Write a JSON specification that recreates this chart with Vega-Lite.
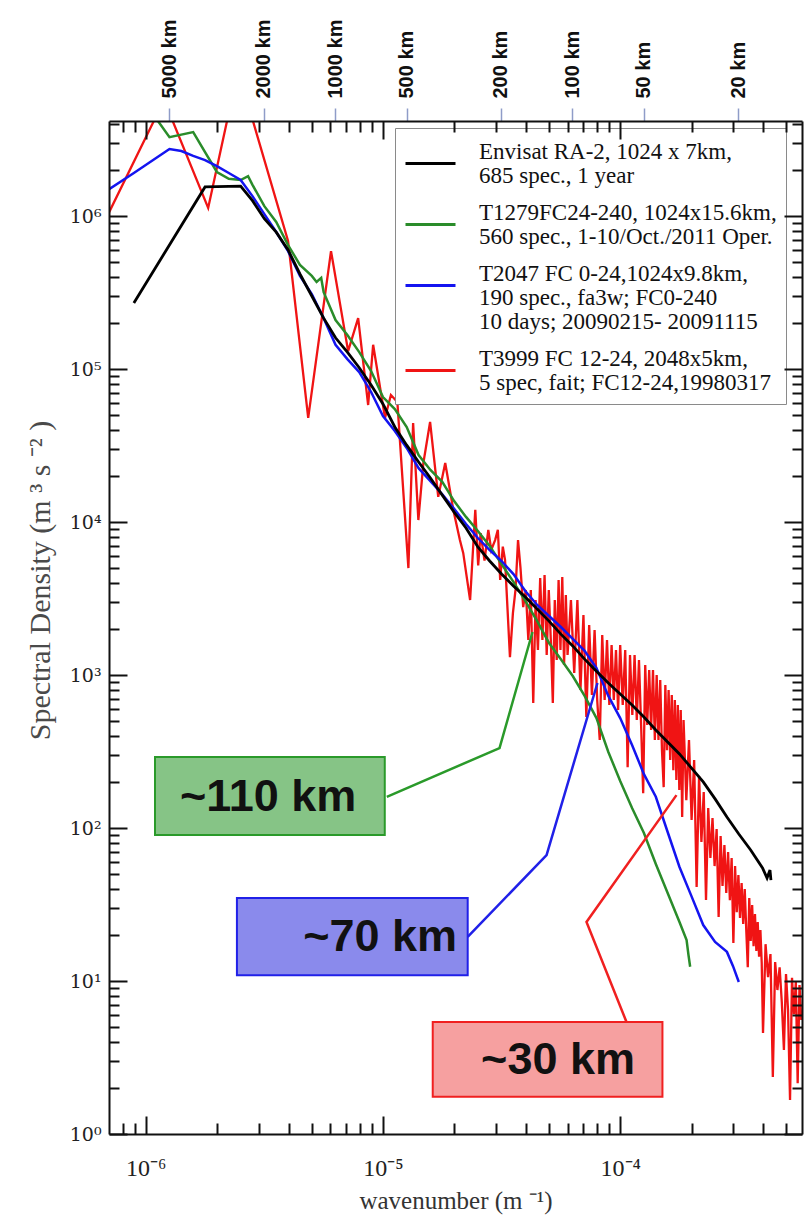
{
"$schema": "https://vega.github.io/schema/vega-lite/v6.json",
"width": 693, "height": 1013,
"autosize": "none",
"padding": {"left": 109, "top": 121, "right": 6, "bottom": 89},
"background": "white",
"config": {"view": {"stroke": null}, "axis": {"grid": false}, "style": {"guide-label": {"lineHeight": 24}}},
"datasets": {
"red": [
{"k":7.01e-7,"S":1.06e6},{"k":1.195e-6,"S":5.73e6},{"k":1.833e-6,"S":1.13e6},{"k":2.45e-6,"S":8.99e6},{"k":3.98e-6,"S":6.87e5},{"k":4.84e-6,"S":4.79e4},{"k":6.04e-6,"S":5.9e5},{"k":7.13e-6,"S":1.31e5},{"k":7.86e-6,"S":2.15e5},{"k":8.66e-6,"S":5.82e4},{"k":9.09e-6,"S":1.44e5},
{"k":1.02e-5,"S":4.79e4},{"k":1.08e-5,"S":6.76e4},{"k":1.15e-5,"S":6.08e4},{"k":1.28e-5,"S":5.0e3},{"k":1.34e-5,"S":4.44e4},{"k":1.41e-5,"S":1.03e4},{"k":1.48e-5,"S":2.43e4},{"k":1.58e-5,"S":4.51e4},{"k":1.71e-5,"S":1.46e4},{"k":1.83e-5,"S":2.43e4},{"k":1.98e-5,"S":1.2e4},
{"k":2.11e-5,"S":7.62e3},{"k":2.18e-5,"S":6.26e3},{"k":2.33e-5,"S":3.09e3},{"k":2.45e-5,"S":1.2e4},{"k":2.52e-5,"S":5.2e3},{"k":2.58e-5,"S":8.47e3},{"k":2.68e-5,"S":5.6e3},{"k":2.78e-5,"S":8.87e3},{"k":2.86e-5,"S":6.56e3},{"k":2.97e-5,"S":7.62e3},{"k":3.05e-5,"S":8.9e3},{"k":3.12e-5,"S":4.18e3},{"k":3.2e-5,"S":6.9e3},{"k":3.27e-5,"S":5.65e3},{"k":3.43e-5,"S":1.31e3},{"k":3.53e-5,"S":2.54e3},{"k":3.62e-5,"S":3.6e3},{"k":3.71e-5,"S":7.62e3},{"k":3.8e-5,"S":5.0e3},{"k":3.9e-5,"S":2.78e3},
{"k":4.0e-5,"S":3594},{"k":4.1e-5,"S":1694},{"k":4.2e-5,"S":3594},{"k":4.3e-5,"S":656},{"k":4.4e-5,"S":3093},{"k":4.5e-5,"S":1457},{"k":4.6e-5,"S":4305},{"k":4.7e-5,"S":1694},{"k":4.8e-5,"S":4503},{"k":4.9e-5,"S":1351},{"k":5.0e-5,"S":3594},{"k":5.1e-5,"S":1694},{"k":5.2e-5,"S":656},{"k":5.3e-5,"S":3093},{"k":5.4e-5,"S":1253},{"k":5.5e-5,"S":4177},{"k":5.6e-5,"S":1457},{"k":5.7e-5,"S":4371},{"k":5.8e-5,"S":1163},{"k":5.9e-5,"S":3334},{"k":6.0e-5,"S":1351},
{"k":6.2e-5,"S":3093},{"k":6.4e-5,"S":1031},{"k":6.6e-5,"S":3093},{"k":6.8e-5,"S":798},{"k":7.0e-5,"S":2468},{"k":7.2e-5,"S":531},{"k":7.4e-5,"S":2123},{"k":7.6e-5,"S":740},{"k":7.8e-5,"S":1969},{"k":8.0e-5,"S":686},{"k":8.2e-5,"S":376},{"k":8.4e-5,"S":1826},{"k":8.6e-5,"S":686},{"k":8.8e-5,"S":1694},{"k":9.0e-5,"S":637},{"k":9.2e-5,"S":1571},{"k":9.4e-5,"S":686},{"k":9.6e-5,"S":1457},{"k":9.8e-5,"S":590},
{"k":1.0e-4,"S":1571},{"k":1.025e-4,"S":637},{"k":1.05e-4,"S":1457},{"k":1.075e-4,"S":250},{"k":1.1e-4,"S":1351},{"k":1.125e-4,"S":548},{"k":1.15e-4,"S":1351},{"k":1.175e-4,"S":508},{"k":1.2e-4,"S":1253},{"k":1.225e-4,"S":471},{"k":1.25e-4,"S":169},{"k":1.275e-4,"S":1163},{"k":1.3e-4,"S":471},{"k":1.325e-4,"S":1078},{"k":1.35e-4,"S":437},{"k":1.375e-4,"S":1078},{"k":1.4e-4,"S":376},{"k":1.425e-4,"S":1000},{"k":1.45e-4,"S":376},{"k":1.475e-4,"S":927},{"k":1.5e-4,"S":323},{"k":1.525e-4,"S":185},{"k":1.55e-4,"S":860},{"k":1.575e-4,"S":323},{"k":1.6e-4,"S":798},{"k":1.625e-4,"S":278},{"k":1.65e-4,"S":740},{"k":1.675e-4,"S":239},{"k":1.7e-4,"S":686},{"k":1.725e-4,"S":206},{"k":1.75e-4,"S":637},{"k":1.775e-4,"S":177},{"k":1.8e-4,"S":590},{"k":1.825e-4,"S":118},
{"k":1.85e-4,"S":508},{"k":1.9e-4,"S":152},{"k":1.95e-4,"S":376},{"k":2.0e-4,"S":113},{"k":2.05e-4,"S":278},{"k":2.1e-4,"S":41.2},{"k":2.15e-4,"S":219},{"k":2.2e-4,"S":81},{"k":2.25e-4,"S":172},{"k":2.3e-4,"S":33.8},{"k":2.35e-4,"S":135},{"k":2.4e-4,"S":63.7},{"k":2.45e-4,"S":116},{"k":2.5e-4,"S":56.4},{"k":2.55e-4,"S":98.5},{"k":2.6e-4,"S":26.2},{"k":2.65e-4,"S":88.7},{"k":2.7e-4,"S":41.8},{"k":2.75e-4,"S":77.4},{"k":2.8e-4,"S":37.6},{"k":2.85e-4,"S":69.7},{"k":2.9e-4,"S":33.8},{"k":2.95e-4,"S":63.7},
{"k":3.0e-4,"S":17.7},{"k":3.05e-4,"S":56.4},{"k":3.1e-4,"S":28.2},{"k":3.15e-4,"S":49.3},{"k":3.2e-4,"S":25.8},{"k":3.25e-4,"S":43.7},{"k":3.3e-4,"S":23.6},{"k":3.35e-4,"S":39.9},{"k":3.4e-4,"S":21.5},{"k":3.45e-4,"S":12.3},{"k":3.5e-4,"S":34.9},{"k":3.55e-4,"S":18.3},{"k":3.6e-4,"S":31.4},{"k":3.65e-4,"S":16.9},{"k":3.7e-4,"S":27.4},{"k":3.75e-4,"S":15.7},{"k":3.8e-4,"S":24.3},{"k":3.85e-4,"S":14.4},{"k":3.9e-4,"S":21.5},{"k":3.95e-4,"S":13.1},
{"k":4.0e-4,"S":4.57},{"k":4.1e-4,"S":17.4},{"k":4.2e-4,"S":10.6},{"k":4.3e-4,"S":15.0},{"k":4.4e-4,"S":2.36},{"k":4.5e-4,"S":13.3},{"k":4.6e-4,"S":8.73},{"k":4.7e-4,"S":12.3},{"k":4.8e-4,"S":7.29},{"k":4.9e-4,"S":3.54},{"k":5.0e-4,"S":11.1},{"k":5.1e-4,"S":6.46},{"k":5.2e-4,"S":1.67},{"k":5.3e-4,"S":10.5},{"k":5.4e-4,"S":6.08},{"k":5.5e-4,"S":9.85},{"k":5.6e-4,"S":2.15},{"k":5.7e-4,"S":9.42},{"k":5.8e-4,"S":5.56}
],
"green": [
{"k":1.043e-6,"S":4.93e6},{"k":1.259e-6,"S":3.28e6},{"k":1.585e-6,"S":3.54e6},{"k":1.778e-6,"S":2.62e6},{"k":1.995e-6,"S":1.94e6},{"k":2.239e-6,"S":1.75e6},{"k":2.512e-6,"S":1.72e6},{"k":2.70e-6,"S":1.82e6},{"k":2.818e-6,"S":1.6e6},{"k":3.162e-6,"S":1.16e6},{"k":3.548e-6,"S":9.14e5},{"k":3.981e-6,"S":6.46e5},{"k":4.467e-6,"S":4.79e5},{"k":5.012e-6,"S":4.06e5},{"k":5.25e-6,"S":3.71e5},{"k":5.49e-6,"S":3.94e5},{"k":5.623e-6,"S":3.18e5},{"k":6.31e-6,"S":2.09e5},{"k":7.079e-6,"S":1.67e5},{"k":7.943e-6,"S":1.29e5},{"k":8.913e-6,"S":9.7e4},
{"k":1e-5,"S":6.56e4},{"k":1.122e-5,"S":5.48e4},{"k":1.259e-5,"S":4.18e4},{"k":1.413e-5,"S":2.74e4},{"k":1.585e-5,"S":2.19e4},{"k":1.778e-5,"S":1.83e4},{"k":1.995e-5,"S":1.37e4},{"k":2.239e-5,"S":1.08e4},{"k":2.512e-5,"S":8.73e3},{"k":2.818e-5,"S":6.97e3},{"k":3.162e-5,"S":5.31e3},{"k":3.548e-5,"S":4.06e3},{"k":3.981e-5,"S":3.05e3},{"k":4.467e-5,"S":2.25e3},{"k":5.012e-5,"S":1.62e3},{"k":5.623e-5,"S":1.27e3},{"k":6.31e-5,"S":985},{"k":7.079e-5,"S":730},{"k":7.943e-5,"S":523},{"k":8.913e-5,"S":314},
{"k":1e-4,"S":203},{"k":1.122e-4,"S":135},{"k":1.259e-4,"S":92.7},{"k":1.413e-4,"S":58.2},{"k":1.585e-4,"S":37.6},{"k":1.778e-4,"S":24.3},{"k":1.905e-4,"S":18.5},{"k":1.94e-4,"S":14.8},{"k":1.972e-4,"S":12.4}
],
"blue": [
{"k":7.01e-7,"S":1.5e6},{"k":8.91e-7,"S":1.91e6},{"k":1.122e-6,"S":2.43e6},{"k":1.259e-6,"S":2.74e6},{"k":1.413e-6,"S":2.66e6},{"k":1.585e-6,"S":2.47e6},{"k":1.778e-6,"S":2.32e6},{"k":1.995e-6,"S":2.12e6},{"k":2.239e-6,"S":1.91e6},{"k":2.512e-6,"S":1.72e6},{"k":2.818e-6,"S":1.35e6},{"k":3.162e-6,"S":1.03e6},{"k":3.548e-6,"S":7.86e5},{"k":3.981e-6,"S":5.9e5},{"k":4.467e-6,"S":4.06e5},{"k":5.012e-6,"S":3.09e5},{"k":5.623e-6,"S":2.15e5},{"k":6.31e-6,"S":1.44e5},{"k":7.079e-6,"S":1.16e5},{"k":7.943e-6,"S":9.55e4},{"k":8.913e-6,"S":7.08e4},
{"k":1e-5,"S":4.93e4},{"k":1.122e-5,"S":3.93e4},{"k":1.259e-5,"S":3.05e4},{"k":1.413e-5,"S":2.25e4},{"k":1.585e-5,"S":1.85e4},{"k":1.778e-5,"S":1.52e4},{"k":1.995e-5,"S":1.22e4},{"k":2.239e-5,"S":9.71e3},{"k":2.512e-5,"S":7.86e3},{"k":2.818e-5,"S":6.56e3},{"k":3.162e-5,"S":5.56e3},{"k":3.548e-5,"S":4.57e3},{"k":3.981e-5,"S":3.54e3},{"k":4.467e-5,"S":2.87e3},{"k":5.012e-5,"S":2.43e3},{"k":5.623e-5,"S":2.06e3},{"k":6.31e-5,"S":1.72e3},{"k":7.079e-5,"S":1.44e3},{"k":7.943e-5,"S":1.11e3},{"k":8.913e-5,"S":730},
{"k":1e-4,"S":523},{"k":1.122e-4,"S":349},{"k":1.259e-4,"S":225},{"k":1.413e-4,"S":160},{"k":1.585e-4,"S":94.2},{"k":1.778e-4,"S":55.6},{"k":1.995e-4,"S":36.0},{"k":2.239e-4,"S":23.2},{"k":2.512e-4,"S":18.0},{"k":2.818e-4,"S":15.5},{"k":2.99e-4,"S":12.5},{"k":3.162e-4,"S":9.85}
],
"black": [
{"k":8.91e-7,"S":2.7e5},{"k":1.778e-6,"S":1.55e6},{"k":2.512e-6,"S":1.57e6},{"k":2.818e-6,"S":1.26e6},{"k":3.162e-6,"S":9.6e5},{"k":3.548e-6,"S":7.85e5},{"k":3.981e-6,"S":6.0e5},{"k":4.467e-6,"S":4.18e5},{"k":5.012e-6,"S":3.0e5},{"k":5.623e-6,"S":2.15e5},{"k":6.31e-6,"S":1.6e5},{"k":7.079e-6,"S":1.29e5},{"k":7.943e-6,"S":1.02e5},{"k":8.913e-6,"S":7.86e4},
{"k":1e-5,"S":5.91e4},{"k":1.122e-5,"S":4.18e4},{"k":1.259e-5,"S":3.18e4},{"k":1.413e-5,"S":2.47e4},{"k":1.585e-5,"S":1.94e4},{"k":1.778e-5,"S":1.5e4},{"k":1.995e-5,"S":1.16e4},{"k":2.239e-5,"S":9.14e3},{"k":2.512e-5,"S":6.87e3},{"k":2.818e-5,"S":5.56e3},{"k":3.162e-5,"S":4.57e3},{"k":3.548e-5,"S":3.82e3},{"k":3.981e-5,"S":3.24e3},{"k":4.467e-5,"S":2.7e3},{"k":5.012e-5,"S":2.25e3},{"k":5.623e-5,"S":1.85e3},{"k":6.31e-5,"S":1.55e3},{"k":7.079e-5,"S":1.27e3},{"k":7.943e-5,"S":1.06e3},{"k":8.913e-5,"S":887},
{"k":1e-4,"S":752},{"k":1.122e-4,"S":637},{"k":1.259e-4,"S":531},{"k":1.413e-4,"S":437},{"k":1.585e-4,"S":365},{"k":1.778e-4,"S":305},{"k":1.995e-4,"S":247},{"k":2.239e-4,"S":200},{"k":2.512e-4,"S":155},{"k":2.818e-4,"S":118},{"k":3.162e-4,"S":91.4},{"k":3.548e-4,"S":71.8},{"k":3.981e-4,"S":54.8},{"k":4.16e-4,"S":47.1},{"k":4.28e-4,"S":53.1},{"k":4.32e-4,"S":45.7}
],
"connectors": [
{"name":"g","i":0,"k":1.038e-5,"S":160},{"name":"g","i":1,"k":3.10e-5,"S":333},{"name":"g","i":2,"k":4.27e-5,"S":1910},
{"name":"b","i":0,"k":2.276e-5,"S":19.4},{"name":"b","i":1,"k":4.894e-5,"S":66.6},{"name":"b","i":2,"k":8.02e-5,"S":887},
{"name":"r","i":0,"k":1.063e-4,"S":5.40},{"name":"r","i":1,"k":7.21e-5,"S":24.3},{"name":"r","i":2,"k":1.727e-4,"S":164}
],
"boxes": [
{"name":"g","k1":1.094e-6,"k2":1.0176e-5,"S1":291,"S2":90.0},
{"name":"b","k1":2.423e-6,"k2":2.276e-5,"S1":34.9,"S2":10.9},
{"name":"r","k1":1.621e-5,"k2":1.507e-4,"S1":5.40,"S2":1.75}
],
"labels": [
{"name":"g","k":3.28e-6,"S":160,"label":"~110 km"},
{"name":"b","k":9.73e-6,"S":19.4,"label":"~70 km"},
{"name":"r","k":5.47e-5,"S":3.05,"label":"~30 km"}
]
},
"layer": [
{
"data": {"name": "red"},
"mark": {"type": "line", "strokeWidth": 2.3, "clip": true},
"encoding": {
"x": {"field": "k", "type": "quantitative", "scale": {"type": "log", "domain": [7.0e-7, 5.84e-4], "nice": false},
 "axis": {"orient": "bottom", "values": [1e-6, 1e-5, 1e-4],
  "labelExpr": "'10⁻' + ['⁰','¹','²','³','⁴','⁵','⁶','⁷'][round(-log(datum.value)/LN10)]",
  "tickSize": -18, "tickWidth": 2, "tickColor": "#111", "domain": true, "domainWidth": 2, "domainColor": "#111",
  "labelFont": "Liberation Serif", "labelFontSize": 24, "labelColor": "#222", "labelPadding": 40, "labelFlush": false, "labelOverlap": false,
  "title": "wavenumber (m ⁻¹)", "titleFont": "Liberation Serif", "titleFontSize": 25, "titleFontWeight": "normal", "titleColor": "#333", "titleY": 66, "titleBaseline": "middle", "zindex": 1}},
"y": {"field": "S", "type": "quantitative", "scale": {"type": "log", "domain": [1, 4.18e6], "nice": false},
 "axis": {"orient": "left", "values": [1, 10, 100, 1000, 10000, 100000, 1000000],
  "labelExpr": "'10' + ['⁰','¹','²','³','⁴','⁵','⁶'][round(log(datum.value)/LN10)]",
  "tickSize": -18, "tickWidth": 2, "tickColor": "#111", "domain": true, "domainWidth": 2, "domainColor": "#111",
  "labelFont": "DejaVu Serif", "labelFontSize": 19, "labelColor": "#222", "labelPadding": 26, "labelFlush": false, "labelOverlap": false,
  "title": "Spectral Density (m ³ s ⁻² )", "titleFont": "Liberation Serif", "titleFontSize": 30, "titleFontWeight": "normal", "titleColor": "#4a4a4a", "titleX": -69, "titleY": 459, "titleAngle": 270, "titleAlign": "center", "titleBaseline": "middle", "zindex": 1}},
"color": {"datum": "T3999", "type": "nominal",
 "scale": {"domain": ["Envisat", "T1279", "T2047", "T3999"], "range": ["#000000", "#2a8c2a", "#1414f0", "#f01414"]},
 "legend": {"orient": "none", "legendX": 286, "legendY": 7, "title": null, "fillColor": "white", "strokeColor": "#8a8a8a", "padding": 9, "rowPadding": 10, "labelOffset": 22, "labelBaseline": "bottom", "symbolType": "M-1,0H1", "symbolSize": 2500, "symbolStrokeWidth": 3, "labelFont": "Liberation Serif", "labelFontSize": 23, "labelLimit": 400, "labelColor": "#111",
  "labelExpr": "datum.label == 'Envisat' ? ['Envisat RA-2, 1024 x 7km,', '685 spec., 1 year'] : datum.label == 'T1279' ? ['T1279FC24-240, 1024x15.6km,', '560 spec., 1-10/Oct./2011 Oper.'] : datum.label == 'T2047' ? ['T2047 FC 0-24,1024x9.8km,', '190 spec., fa3w;  FC0-240', '10 days; 20090215- 20091115'] : ['T3999 FC 12-24, 2048x5km,', '5 spec, fait; FC12-24,19980317']"}}
}
},
{
"data": {"name": "green"},
"mark": {"type": "line", "strokeWidth": 2.5, "clip": true},
"encoding": {
"x": {"field": "k", "type": "quantitative", "scale": {"type": "log", "domain": [7.0e-7, 5.84e-4], "nice": false},
 "axis": {"orient": "bottom", "values": [8e-7, 9e-7, 2e-6, 3e-6, 4e-6, 5e-6, 6e-6, 7e-6, 8e-6, 9e-6, 2e-5, 3e-5, 4e-5, 5e-5, 6e-5, 7e-5, 8e-5, 9e-5, 2e-4, 3e-4, 4e-4, 5e-4], "labels": false, "domain": false, "tickSize": -11, "tickWidth": 2, "tickColor": "#111", "title": null, "zindex": 1}},
"y": {"field": "S", "type": "quantitative", "scale": {"type": "log", "domain": [1, 4.18e6], "nice": false},
 "axis": {"orient": "left", "values": [2,3,4,5,6,7,8,9,20,30,40,50,60,70,80,90,200,300,400,500,600,700,800,900,2000,3000,4000,5000,6000,7000,8000,9000,20000,30000,40000,50000,60000,70000,80000,90000,200000,300000,400000,500000,600000,700000,800000,900000,2000000,3000000,4000000], "labels": false, "domain": false, "tickSize": -10, "tickWidth": 2, "tickColor": "#111", "title": null, "zindex": 1}},
"color": {"datum": "T1279", "type": "nominal",
 "scale": {"domain": ["Envisat", "T1279", "T2047", "T3999"], "range": ["#000000", "#2a8c2a", "#1414f0", "#f01414"]},
 "legend": {"orient": "none", "legendX": 286, "legendY": 7, "title": null, "fillColor": "white", "strokeColor": "#8a8a8a", "padding": 9, "rowPadding": 10, "labelOffset": 22, "labelBaseline": "bottom", "symbolType": "M-1,0H1", "symbolSize": 2500, "symbolStrokeWidth": 3, "labelFont": "Liberation Serif", "labelFontSize": 23, "labelLimit": 400, "labelColor": "#111",
  "labelExpr": "datum.label == 'Envisat' ? ['Envisat RA-2, 1024 x 7km,', '685 spec., 1 year'] : datum.label == 'T1279' ? ['T1279FC24-240, 1024x15.6km,', '560 spec., 1-10/Oct./2011 Oper.'] : datum.label == 'T2047' ? ['T2047 FC 0-24,1024x9.8km,', '190 spec., fa3w;  FC0-240', '10 days; 20090215- 20091115'] : ['T3999 FC 12-24, 2048x5km,', '5 spec, fait; FC12-24,19980317']"}}
}
},
{
"data": {"name": "blue"},
"mark": {"type": "line", "strokeWidth": 2.5, "clip": true},
"encoding": {
"x": {"field": "k", "type": "quantitative", "scale": {"type": "log", "domain": [7.0e-7, 5.84e-4], "nice": false},
 "axis": {"orient": "top", "values": [1.25664e-6, 3.14159e-6, 6.28319e-6, 1.25664e-5, 3.14159e-5, 6.28319e-5, 1.25664e-4, 3.14159e-4],
  "labelExpr": "round(2*PI/datum.value/1000) + ' km'", "labelAngle": 270, "labelFont": "Liberation Sans", "labelFontWeight": "bold", "labelFontSize": 20, "labelColor": "#111", "labelPadding": 10, "labelOverlap": false, "labelFlush": false,
  "tickSize": 13, "tickWidth": 1.5, "tickColor": "#8f9cc8", "domain": true, "domainWidth": 2, "domainColor": "#111", "title": null, "zindex": 1}},
"y": {"field": "S", "type": "quantitative", "scale": {"type": "log", "domain": [1, 4.18e6], "nice": false},
 "axis": {"orient": "right", "values": [1, 10, 100, 1000, 10000, 100000, 1000000], "labels": false, "domain": true, "domainWidth": 2, "domainColor": "#111", "tickSize": -18, "tickWidth": 2, "tickColor": "#111", "title": null, "zindex": 1}},
"color": {"datum": "T2047", "type": "nominal",
 "scale": {"domain": ["Envisat", "T1279", "T2047", "T3999"], "range": ["#000000", "#2a8c2a", "#1414f0", "#f01414"]},
 "legend": {"orient": "none", "legendX": 286, "legendY": 7, "title": null, "fillColor": "white", "strokeColor": "#8a8a8a", "padding": 9, "rowPadding": 10, "labelOffset": 22, "labelBaseline": "bottom", "symbolType": "M-1,0H1", "symbolSize": 2500, "symbolStrokeWidth": 3, "labelFont": "Liberation Serif", "labelFontSize": 23, "labelLimit": 400, "labelColor": "#111",
  "labelExpr": "datum.label == 'Envisat' ? ['Envisat RA-2, 1024 x 7km,', '685 spec., 1 year'] : datum.label == 'T1279' ? ['T1279FC24-240, 1024x15.6km,', '560 spec., 1-10/Oct./2011 Oper.'] : datum.label == 'T2047' ? ['T2047 FC 0-24,1024x9.8km,', '190 spec., fa3w;  FC0-240', '10 days; 20090215- 20091115'] : ['T3999 FC 12-24, 2048x5km,', '5 spec, fait; FC12-24,19980317']"}}
}
},
{
"data": {"name": "black"},
"mark": {"type": "line", "strokeWidth": 2.8, "clip": true},
"encoding": {
"x": {"field": "k", "type": "quantitative", "scale": {"type": "log", "domain": [7.0e-7, 5.84e-4], "nice": false},
 "axis": {"orient": "top", "values": [1e-6, 1e-5, 1e-4], "labels": false, "domain": false, "tickSize": -18, "tickWidth": 2, "tickColor": "#111", "title": null, "zindex": 1}},
"y": {"field": "S", "type": "quantitative", "scale": {"type": "log", "domain": [1, 4.18e6], "nice": false},
 "axis": {"orient": "right", "values": [2,3,4,5,6,7,8,9,20,30,40,50,60,70,80,90,200,300,400,500,600,700,800,900,2000,3000,4000,5000,6000,7000,8000,9000,20000,30000,40000,50000,60000,70000,80000,90000,200000,300000,400000,500000,600000,700000,800000,900000,2000000,3000000,4000000], "labels": false, "domain": false, "tickSize": -10, "tickWidth": 2, "tickColor": "#111", "title": null, "zindex": 1}},
"color": {"datum": "Envisat", "type": "nominal",
 "scale": {"domain": ["Envisat", "T1279", "T2047", "T3999"], "range": ["#000000", "#2a8c2a", "#1414f0", "#f01414"]},
 "legend": {"orient": "none", "legendX": 286, "legendY": 7, "title": null, "fillColor": "white", "strokeColor": "#8a8a8a", "padding": 9, "rowPadding": 10, "labelOffset": 22, "labelBaseline": "bottom", "symbolType": "M-1,0H1", "symbolSize": 2500, "symbolStrokeWidth": 3, "labelFont": "Liberation Serif", "labelFontSize": 23, "labelLimit": 400, "labelColor": "#111",
  "labelExpr": "datum.label == 'Envisat' ? ['Envisat RA-2, 1024 x 7km,', '685 spec., 1 year'] : datum.label == 'T1279' ? ['T1279FC24-240, 1024x15.6km,', '560 spec., 1-10/Oct./2011 Oper.'] : datum.label == 'T2047' ? ['T2047 FC 0-24,1024x9.8km,', '190 spec., fa3w;  FC0-240', '10 days; 20090215- 20091115'] : ['T3999 FC 12-24, 2048x5km,', '5 spec, fait; FC12-24,19980317']"}}
}
},
{
"data": {"name": "connectors"},
"transform": [{"filter": "datum.name == 'g'"}],
"mark": {"type": "line", "color": "#2a9a2a", "strokeWidth": 2.5, "clip": true},
"encoding": {
"x": {"field": "k", "type": "quantitative", "scale": {"type": "log", "domain": [7.0e-7, 5.84e-4], "nice": false},
 "axis": {"orient": "top", "values": [8e-7, 9e-7, 2e-6, 3e-6, 4e-6, 5e-6, 6e-6, 7e-6, 8e-6, 9e-6, 2e-5, 3e-5, 4e-5, 5e-5, 6e-5, 7e-5, 8e-5, 9e-5, 2e-4, 3e-4, 4e-4, 5e-4], "labels": false, "domain": false, "tickSize": -11, "tickWidth": 2, "tickColor": "#111", "title": null, "zindex": 1}},
"y": {"field": "S", "type": "quantitative", "scale": {"type": "log", "domain": [1, 4.18e6], "nice": false}, "axis": null},
"order": {"field": "i", "type": "quantitative"}
}
},
{
"data": {"name": "connectors"},
"transform": [{"filter": "datum.name == 'b'"}],
"mark": {"type": "line", "color": "#2020e8", "strokeWidth": 2.5, "clip": true},
"encoding": {
"x": {"field": "k", "type": "quantitative", "scale": {"type": "log", "domain": [7.0e-7, 5.84e-4], "nice": false}, "axis": null},
"y": {"field": "S", "type": "quantitative", "scale": {"type": "log", "domain": [1, 4.18e6], "nice": false}, "axis": null},
"order": {"field": "i", "type": "quantitative"}
}
},
{
"data": {"name": "connectors"},
"transform": [{"filter": "datum.name == 'r'"}],
"mark": {"type": "line", "color": "#f02020", "strokeWidth": 2.5, "clip": true},
"encoding": {
"x": {"field": "k", "type": "quantitative", "scale": {"type": "log", "domain": [7.0e-7, 5.84e-4], "nice": false}, "axis": null},
"y": {"field": "S", "type": "quantitative", "scale": {"type": "log", "domain": [1, 4.18e6], "nice": false}, "axis": null},
"order": {"field": "i", "type": "quantitative"}
}
},
{
"data": {"name": "boxes"},
"transform": [{"filter": "datum.name == 'g'"}],
"mark": {"type": "rect", "fill": "#86c486", "stroke": "#2a9a2a", "strokeWidth": 2},
"encoding": {
"x": {"field": "k1", "type": "quantitative", "scale": {"type": "log", "domain": [7.0e-7, 5.84e-4], "nice": false}, "axis": null},
"x2": {"field": "k2"},
"y": {"field": "S1", "type": "quantitative", "scale": {"type": "log", "domain": [1, 4.18e6], "nice": false}, "axis": null},
"y2": {"field": "S2"}
}
},
{
"data": {"name": "boxes"},
"transform": [{"filter": "datum.name == 'b'"}],
"mark": {"type": "rect", "fill": "#8a8aec", "stroke": "#2020e8", "strokeWidth": 2},
"encoding": {
"x": {"field": "k1", "type": "quantitative", "scale": {"type": "log", "domain": [7.0e-7, 5.84e-4], "nice": false}, "axis": null},
"x2": {"field": "k2"},
"y": {"field": "S1", "type": "quantitative", "scale": {"type": "log", "domain": [1, 4.18e6], "nice": false}, "axis": null},
"y2": {"field": "S2"}
}
},
{
"data": {"name": "boxes"},
"transform": [{"filter": "datum.name == 'r'"}],
"mark": {"type": "rect", "fill": "#f6a0a0", "stroke": "#f02020", "strokeWidth": 2},
"encoding": {
"x": {"field": "k1", "type": "quantitative", "scale": {"type": "log", "domain": [7.0e-7, 5.84e-4], "nice": false}, "axis": null},
"x2": {"field": "k2"},
"y": {"field": "S1", "type": "quantitative", "scale": {"type": "log", "domain": [1, 4.18e6], "nice": false}, "axis": null},
"y2": {"field": "S2"}
}
},
{
"data": {"name": "labels"},
"mark": {"type": "text", "font": "Liberation Sans", "fontWeight": "bold", "fontSize": 45, "color": "#111", "align": "center", "baseline": "middle"},
"encoding": {
"x": {"field": "k", "type": "quantitative", "scale": {"type": "log", "domain": [7.0e-7, 5.84e-4], "nice": false}, "axis": null},
"y": {"field": "S", "type": "quantitative", "scale": {"type": "log", "domain": [1, 4.18e6], "nice": false}, "axis": null},
"text": {"field": "label"}
}
}
],
"resolve": {"axis": {"x": "independent", "y": "independent"}}
}
